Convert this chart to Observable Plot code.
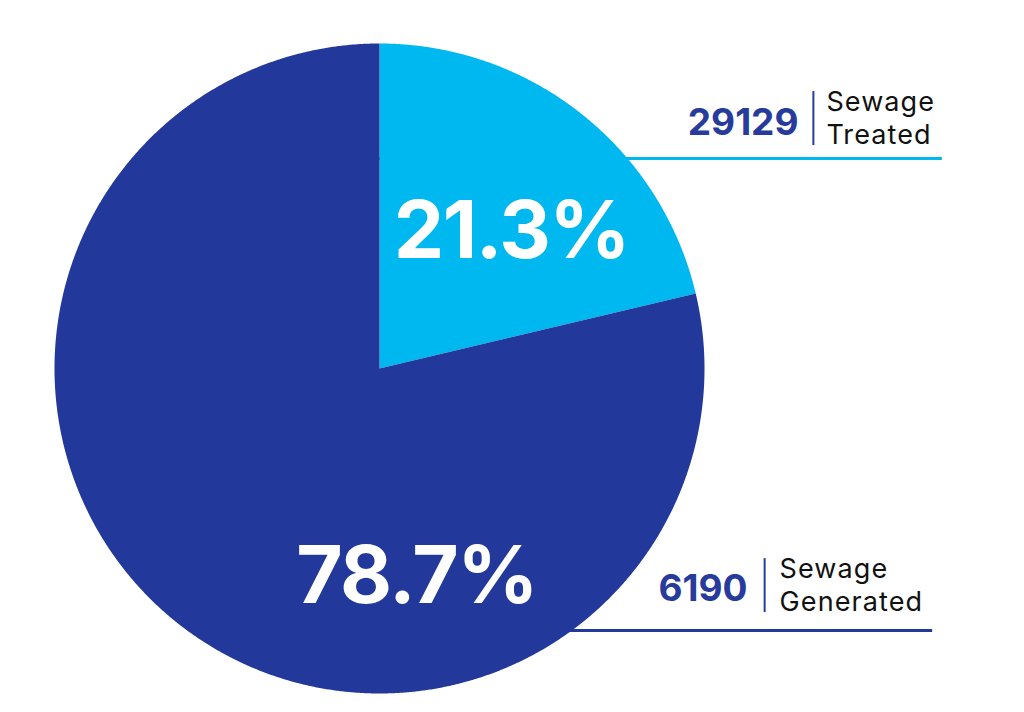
<!DOCTYPE html>
<html><head><meta charset="utf-8">
<script src="https://cdn.jsdelivr.net/npm/d3@7"></script>
<script src="https://cdn.jsdelivr.net/npm/@observablehq/plot@0.6"></script>
<style>
html,body{margin:0;padding:0;background:#fff;}
#chart svg{display:block}
g[aria-description="names"] text{letter-spacing:1.1px}
g[aria-description="shares"] text{letter-spacing:-1.5px}
</style>
</head><body><div id="chart"></div>
<script>
// ---- data ----
const categories = ["Sewage Treated", "Sewage Generated"];
const shares = [21.3, 78.7];
const amounts = [29129, 6190];
const shareLabels = ["21.3%", "78.7%"];
const nameLabels = ["Sewage\nTreated", "Sewage\nGenerated"];
const colors = ["#00B8F0", "#22389A"];

// ---- layout (unit-circle coordinates) ----
const pctPos = [{x: 0.406, y: 0.418}, {x: 0.114, y: -0.643}];
const leaderY = [0.646, -0.806];
const leaderEnd = [1.732, 1.702];
const numPos = [{x: 1.289, y: 0.717}, {x: 1.132, y: -0.714}];
const barPos = [{x: 1.335, y1: 0.686, y2: 0.852}, {x: 1.185, y1: -0.751, y2: -0.585}];
const namePos = [{x: 1.375, y: 0.692}, {x: 1.231, y: -0.745}];

// ---- build slices from values ----
const arcs = d3.pie().sort(null).value(d => d)(shares);
const slices = [];
arcs.forEach((p, i) => {
  slices.push({cat: categories[i], x: 0, y: 0});
  const n = Math.ceil((p.endAngle - p.startAngle) / (Math.PI / 720));
  for (let k = 0; k <= n; k++) {
    const a = p.startAngle + (p.endAngle - p.startAngle) * k / n;
    slices.push({cat: categories[i], x: Math.sin(a), y: Math.cos(a)});
  }
});
const idx = categories.map((_, i) => i);

const chart = Plot.plot({
  width: 1024, height: 712, margin: 0,
  x: {domain: [-1, 1], range: [54, 704], axis: null},
  y: {domain: [-1, 1], range: [693, 43], axis: null},
  color: {domain: categories, range: colors},
  style: {fontFamily: "Inter, 'Open Sans', sans-serif", background: "#fff"},
  marks: [
    Plot.ruleY(idx, {y: i => leaderY[i], x1: 0, x2: i => leaderEnd[i], stroke: i => categories[i], strokeWidth: 3}),
    Plot.line(slices, {x: "x", y: "y", z: "cat", fill: "cat", stroke: "none", curve: "linear"}),
    Plot.text(idx, {x: i => pctPos[i].x, y: i => pctPos[i].y, text: i => shareLabels[i],
      fill: "white", fontSize: 80, fontWeight: 700, ariaDescription: "shares"}),
    Plot.text(idx, {x: i => numPos[i].x, y: i => numPos[i].y, text: i => String(amounts[i]),
      fill: "#263B9B", fontSize: 37, fontWeight: 700, textAnchor: "end", lineAnchor: "bottom"}),
    Plot.ruleX(idx, {x: i => barPos[i].x, y1: i => barPos[i].y1, y2: i => barPos[i].y2, stroke: "#263B9B", strokeWidth: 2}),
    Plot.text(idx, {x: i => namePos[i].x, y: i => namePos[i].y, text: i => nameLabels[i],
      fill: "#111", fontSize: 27, fontWeight: 400, textAnchor: "start", lineAnchor: "bottom", lineHeight: 1.22, ariaDescription: "names"})
  ]
});
document.getElementById("chart").appendChild(chart);
</script>
</body></html>
